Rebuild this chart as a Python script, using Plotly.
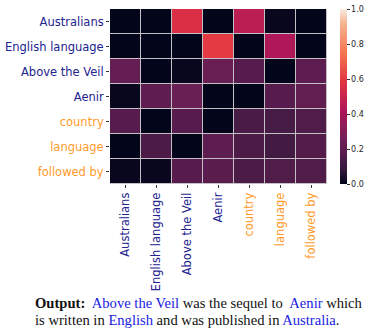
import plotly.graph_objects as go

labels = ["Australians", "English language", "Above the Veil", "Aenir",
          "country", "language", "followed by"]
label_colors = ["#23238F", "#23238F", "#23238F", "#23238F",
                "#FF9A2A", "#FF9A2A", "#FF9A2A"]

row_australians = [0.0, 0.0, 0.56, 0.0, 0.46, 0.01, 0.0]
row_english = [0.0, 0.0, 0.0, 0.60, 0.0, 0.42, 0.0]
row_above = [0.22, 0.0, 0.01, 0.23, 0.18, 0.0, 0.20]
row_aenir = [0.01, 0.20, 0.23, 0.0, 0.0, 0.18, 0.21]
row_country = [0.18, 0.0, 0.18, 0.0, 0.14, 0.13, 0.16]
row_language = [0.0, 0.15, 0.0, 0.20, 0.15, 0.12, 0.17]
row_followed = [0.01, 0.01, 0.18, 0.19, 0.15, 0.16, 0.16]

z = [row_australians, row_english, row_above, row_aenir,
     row_country, row_language, row_followed]

rocket = [
    [0.0, "#03051A"],
    [0.083, "#35193E"],
    [0.25, "#701F57"],
    [0.417, "#AD1759"],
    [0.583, "#E13342"],
    [0.75, "#F37651"],
    [0.917, "#F6B48F"],
    [1.0, "#FAEBDD"],
]

W, H = 374, 332
L, R, T, B = 110, 47, 9, 148
pw = W - L - R
ph = H - T - B

def px_to_paper_x(px):
    return (px - L) / pw

def px_to_paper_y(py):
    return (H - B - py) / ph

fig = go.Figure(go.Heatmap(
    z=z, x=labels, y=labels,
    colorscale=rocket, zmin=0, zmax=1,
    xgap=1, ygap=1,
    colorbar=dict(
        x=px_to_paper_x(340), xanchor="left", xref="paper",
        y=0.5, yanchor="middle", len=1, lenmode="fraction",
        thickness=7, outlinewidth=0, xpad=0, ypad=0,
        tickvals=[0, 0.2, 0.4, 0.6, 0.8, 1.0],
        ticktext=["0.0", "0.2", "0.4", "0.6", "0.8", "1.0"],
        ticks="outside", ticklen=3, tickwidth=1, tickcolor="#333333",
        tickfont=dict(family="DejaVu Sans", size=8, color="#262626"),
    ),
    showscale=True,
))

xt = [f'<span style="color:{c}">{t}</span>' for t, c in zip(labels, label_colors)]

fig.update_xaxes(
    tickmode="array", tickvals=labels, ticktext=xt, automargin=False,
    tickangle=-90, ticks="outside", ticklen=3, tickcolor="#333333",
    tickfont=dict(family="DejaVu Sans", size=11.5),
    showgrid=False, zeroline=False, showline=False,
)
fig.update_yaxes(
    tickmode="array", tickvals=labels, ticktext=xt, automargin=False,
    autorange="reversed", ticks="outside", ticklen=3, tickcolor="#333333",
    tickfont=dict(family="DejaVu Sans", size=11.5),
    showgrid=False, zeroline=False, showline=False,
)

blue = "#2020E0"
cap_line1 = (
    '<b>Output:</b>  <span style="color:%s">Above the Veil</span> was the sequel to  '
    '<span style="color:%s">Aenir</span> which'
) % (blue, blue)
cap_line2 = (
    'is written in <span style="color:%s">English</span> and was published in '
    '<span style="color:%s">Australia</span>.'
) % (blue, blue)

cap_font = dict(family="Liberation Serif", size=14.6, color="#111111")
for txt, base in [(cap_line1, 308), (cap_line2, 325)]:
    fig.add_annotation(
        text=txt, xref="paper", yref="paper",
        x=px_to_paper_x(34), y=px_to_paper_y(base - 5),
        xanchor="left", yanchor="middle", align="left", showarrow=False,
        font=cap_font, borderpad=0,
    )

fig.update_layout(
    width=W, height=H,
    margin=dict(l=L, r=R, t=T, b=B, autoexpand=False),
    plot_bgcolor="#C4C0C6",
    paper_bgcolor="white",
)

fig.write_html(
    "out.html",
    config={"displayModeBar": False},
    post_script="document.body.style.margin='0';document.body.style.overflow='hidden';",
)
